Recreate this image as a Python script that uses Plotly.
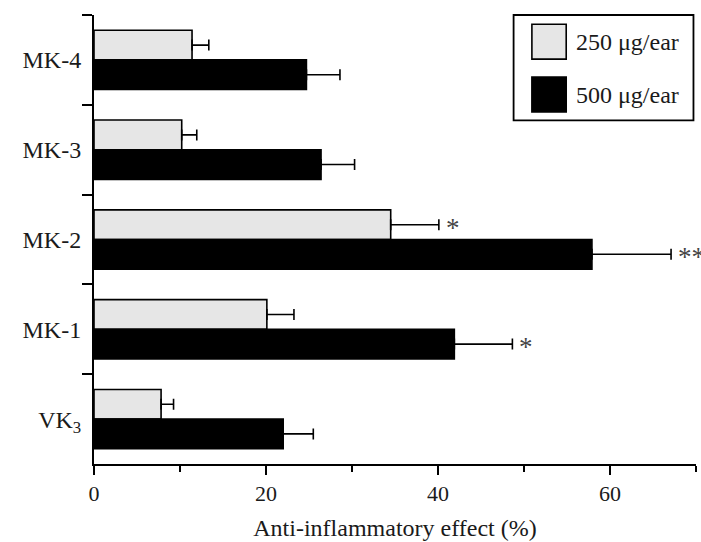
import plotly.graph_objects as go

# ---- data ----
categories = ["MK-4", "MK-3", "MK-2", "MK-1", "VK<sub>3</sub>"]
dose_250 = [11.4, 10.2, 34.5, 20.1, 7.8]
err_250 = [1.95, 1.75, 5.6, 3.15, 1.45]
dose_500 = [24.7, 26.4, 57.9, 41.9, 22.0]
err_500 = [3.9, 3.9, 9.2, 6.75, 3.5]
sig_250 = ["", "", "*", "", ""]
sig_500 = ["", "", "**", "*", ""]
series_names = ["250 \u03bcg/ear", "500 \u03bcg/ear"]
x_ticks = [0, 20, 40, 60]

FONT = "Liberation Serif, Times New Roman, serif"
LIGHT = "#e6e6e6"
INK = "#1a1a1a"

fig = go.Figure()
fig.add_trace(go.Bar(
    y=categories, x=dose_250, orientation="h", name=series_names[0],
    marker=dict(color=LIGHT, line=dict(color="black", width=1.6)),
    error_x=dict(type="data", symmetric=False, array=err_250,
                 arrayminus=[0] * len(err_250), color="black",
                 thickness=1.6, width=5.5),
    showlegend=False,
))
fig.add_trace(go.Bar(
    y=categories, x=dose_500, orientation="h", name=series_names[1],
    marker=dict(color="black", line=dict(color="black", width=1.6)),
    error_x=dict(type="data", symmetric=False, array=err_500,
                 arrayminus=[0] * len(err_500), color="black",
                 thickness=1.6, width=5.5),
    showlegend=False,
))

# significance marks
annotations = []
STAR_FONT = dict(family=FONT, size=27, color="#444")
for cat, v, e, s in zip(categories, dose_250, err_250, sig_250):
    if s:
        annotations.append(dict(x=v + e, y=cat, xref="x", yref="y", text=s,
                                showarrow=False, xanchor="left", yanchor="middle",
                                xshift=5, yshift=14.7 - 3, font=STAR_FONT))
for cat, v, e, s in zip(categories, dose_500, err_500, sig_500):
    if s:
        annotations.append(dict(x=v + e, y=cat, xref="x", yref="y", text=s,
                                showarrow=False, xanchor="left", yanchor="middle",
                                xshift=5, yshift=-14.7 - 3, font=STAR_FONT))

# custom legend box (large swatches)
shapes = [
    dict(type="rect", xref="paper", yref="paper", x0=0.697, x1=0.9958,
         y0=0.7655, y1=1.0, line=dict(color="black", width=1.8),
         fillcolor="white", layer="above"),
    dict(type="rect", xref="paper", yref="paper", x0=0.7274, x1=0.7844,
         y0=0.9017, y1=0.9794, line=dict(color="black", width=1.6),
         fillcolor=LIGHT, layer="above"),
    dict(type="rect", xref="paper", yref="paper", x0=0.7274, x1=0.7844,
         y0=0.7843, y1=0.8619, line=dict(color="black", width=1.6),
         fillcolor="black", layer="above"),
]
for name, yc in zip(series_names, [0.9406, 0.8229]):
    annotations.append(dict(x=0.7971, y=yc, xref="paper", yref="paper",
                            text=name, showarrow=False, xanchor="left",
                            yanchor="middle",
                            font=dict(family=FONT, size=24, color=INK)))

fig.update_layout(
    width=701, height=542,
    margin=dict(l=94, r=5, t=15, b=76),
    paper_bgcolor="white", plot_bgcolor="white",
    barmode="group", bargap=0.34, bargroupgap=0.0,
    font=dict(family=FONT, color=INK),
    annotations=annotations, shapes=shapes,
    xaxis=dict(range=[0, 70], tickvals=x_ticks, ticks="outside", ticklen=9,
               tickwidth=2, tickcolor="black", showline=True, linewidth=2,
               linecolor="black", showgrid=False, zeroline=False,
               tickfont=dict(family=FONT, size=22, color=INK),
               minor=dict(dtick=10, tick0=0, ticks="outside", ticklen=6,
                          tickwidth=2, tickcolor="black", showgrid=False),
               title=dict(text="Anti-inflammatory effect (%)", standoff=14,
                          font=dict(family=FONT, size=24, color=INK))),
    yaxis=dict(type="category", autorange="reversed", tickson="boundaries",
               ticks="outside", ticklen=10, tickwidth=2, tickcolor="black",
               showline=True, linewidth=2, linecolor="black", showgrid=False,
               zeroline=False, ticklabelstandoff=6,
               tickfont=dict(family=FONT, size=24, color=INK)),
)

fig.write_html("out.html",
               config={"displayModeBar": False},
               post_script="document.body.style.margin='0';"
                           "document.body.style.padding='0';")
